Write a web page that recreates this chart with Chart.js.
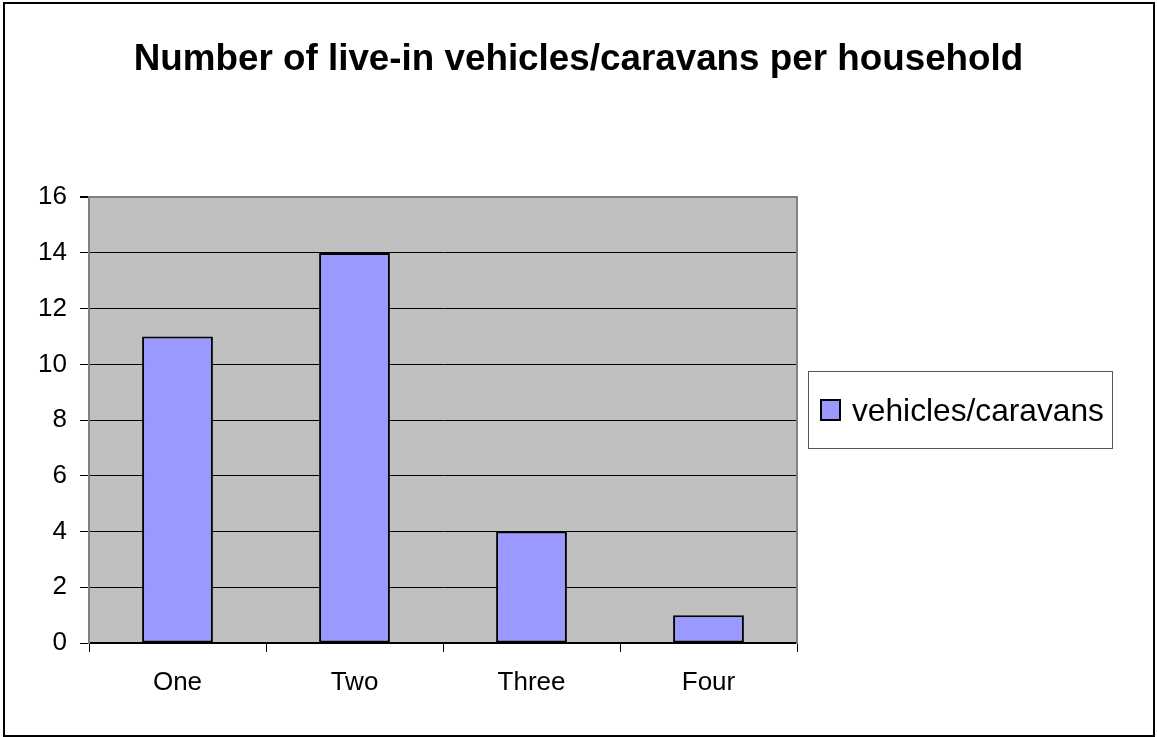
<!DOCTYPE html>
<html>
<head>
<meta charset="utf-8">
<title>Number of live-in vehicles/caravans per household</title>
<script src="https://cdn.jsdelivr.net/npm/chart.js@4/dist/chart.umd.min.js"></script>
<style>
  html, body { margin: 0; padding: 0; background: #fff; }
  #wrap { width: 1157px; height: 737px; }
</style>
</head>
<body>
<div id="wrap"><canvas id="chart"></canvas></div>
<script>
// chart data
const chartTitle = 'Number of live-in vehicles/caravans per household';
const seriesName = 'vehicles/caravans';
const categories = ['One', 'Two', 'Three', 'Four'];
const counts = [11, 14, 4, 1];
const yMin = 0;
const yMax = 16;
const yStep = 2;

const FONT = "'Liberation Sans', Arial, sans-serif";

// plot background, legend box and outer border (Excel style)
const excelFrame = {
    id: 'excelFrame',
    beforeDraw(chart) {
        const { ctx, chartArea: a } = chart;
        ctx.save();
        ctx.fillStyle = '#fff';
        ctx.fillRect(0, 0, chart.width, chart.height);
        ctx.fillStyle = '#c0c0c0';
        ctx.fillRect(a.left, a.top, a.right - a.left, a.bottom - a.top);
        ctx.restore();
    },
    afterDraw(chart) {
        const { ctx } = chart;
        ctx.save();
        // legend
        const ds = chart.data.datasets[0];
        ctx.fillStyle = '#fff';
        ctx.fillRect(808, 371, 304, 77);
        ctx.strokeStyle = '#555';
        ctx.lineWidth = 1;
        ctx.strokeRect(808.5, 371.5, 304, 77);
        ctx.fillStyle = ds.backgroundColor;
        ctx.fillRect(821, 400, 19, 20);
        ctx.strokeStyle = '#000';
        ctx.lineWidth = 2;
        ctx.strokeRect(821, 400, 19, 20);
        ctx.fillStyle = '#000';
        ctx.font = '31.7px ' + FONT;
        ctx.textBaseline = 'alphabetic';
        ctx.textAlign = 'left';
        ctx.fillText(ds.label, 852, 421);

        // outer border
        ctx.strokeStyle = '#000';
        ctx.lineWidth = 2;
        ctx.strokeRect(4, 3, 1150, 733);
        ctx.restore();
    }
};

new Chart(document.getElementById('chart'), {
    type: 'bar',
    data: {
        labels: categories,
        datasets: [{
            label: seriesName,
            data: counts,
            backgroundColor: '#9999ff',
            borderColor: '#000',
            borderWidth: 2,
            borderSkipped: false,
            categoryPercentage: 1,
            barPercentage: 0.4
        }]
    },
    options: {
        responsive: true,
        maintainAspectRatio: false,
        animation: false,
        layout: { padding: 0 },
        plugins: {
            legend: { display: false },
            tooltip: { enabled: false },
            title: {
                display: true,
                text: chartTitle,
                color: '#000',
                font: { family: FONT, size: 36.8, weight: 'bold', lineHeight: 1.2 },
                padding: { top: 38, bottom: 115 }
            }
        },
        scales: {
            x: {
                offset: true,
                grid: {
                    display: true,
                    offset: true,
                    drawOnChartArea: false,
                    drawTicks: true,
                    tickLength: 9,
                    color: '#000',
                    lineWidth: 1
                },
                border: { display: true, color: '#000', width: 2 },
                ticks: {
                    color: '#000',
                    padding: 15,
                    maxRotation: 0,
                    font: { family: FONT, size: 26 }
                },
                afterFit(scale) { scale.height = 94; }
            },
            y: {
                min: yMin,
                max: yMax,
                grid: {
                    color: ctx => (ctx.tick && ctx.tick.value === yMax ? '#808080' : '#000'),
                    lineWidth: ctx => (ctx.tick && ctx.tick.value === yMax ? 2 : 1),
                    tickColor: '#000',
                    tickLength: 9,
                    drawTicks: true
                },
                border: { display: true, color: '#808080', width: 2 },
                ticks: {
                    stepSize: yStep,
                    color: '#000',
                    padding: 13,
                    font: { family: FONT, size: 26 }
                },
                afterFit(scale) { scale.width = 89; }
            },
            // empty right-hand axis: gives the plot its grey right edge and leaves room for the legend
            yRight: {
                type: 'linear',
                position: 'right',
                display: true,
                min: yMin,
                max: yMax,
                grid: { display: false, drawOnChartArea: false, drawTicks: false },
                border: { display: true, color: '#808080', width: 2 },
                ticks: { display: false },
                afterFit(scale) { scale.width = 360; }
            }
        }
    },
    plugins: [excelFrame]
});
</script>
</body>
</html>
